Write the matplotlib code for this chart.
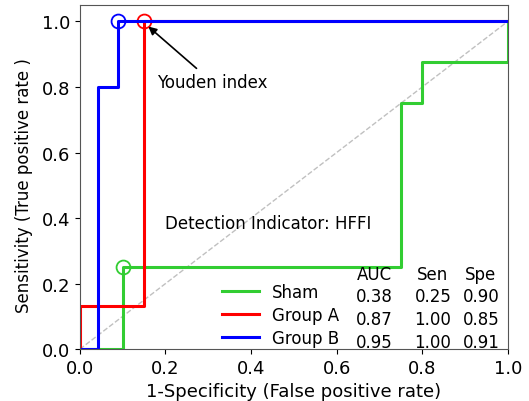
import matplotlib
matplotlib.use("Agg")
import matplotlib.pyplot as plt

# ROC step curves
sham_fpr = [0.0, 0.1, 0.1, 0.75, 0.75, 0.8, 0.8, 1.0, 1.0]
sham_tpr = [0.0, 0.0, 0.25, 0.25, 0.75, 0.75, 0.875, 0.875, 1.0]
a_fpr = [0.0, 0.0, 0.15, 0.15, 1.0]
a_tpr = [0.0, 0.133, 0.133, 1.0, 1.0]
b_fpr = [0.0, 0.042, 0.042, 0.09, 0.09, 1.0]
b_tpr = [0.0, 0.0, 0.8, 0.8, 1.0, 1.0]

groups = ["Sham", "Group A", "Group B"]
colors = ["limegreen", "red", "blue"]
youden = [(0.1, 0.25), (0.15, 1.0), (0.09, 1.0)]
auc = [0.38, 0.87, 0.95]
sen = [0.25, 1.00, 1.00]
spe = [0.90, 0.85, 0.91]

fig, ax = plt.subplots(figsize=(5.29, 4.02), dpi=100)
fig.subplots_adjust(left=0.151, right=0.960, top=0.985, bottom=0.129)

ax.plot([0, 1], [0, 1], ls="--", color="silver", lw=1)
curves = [(sham_fpr, sham_tpr), (a_fpr, a_tpr), (b_fpr, b_tpr)]
for (x, y), c, name, (px, py) in zip(curves, colors, groups, youden):
    ax.plot(x, y, color=c, lw=2.2, label=name)
    ax.plot(px, py, "o", mfc="none", mec=c, ms=10, mew=1.3)

ax.annotate("Youden index", xy=(0.155, 0.99), xytext=(0.18, 0.8),
            fontsize=12, arrowprops=dict(arrowstyle="-|>", color="black", lw=1.2))
ax.text(0.2, 0.385, "Detection Indicator: HFFI", fontsize=12, va="center")

ax.legend(loc="lower left", bbox_to_anchor=(0.297, -0.037), frameon=False,
          fontsize=12, handlelength=2.2, labelspacing=0.3)

# small stats table
cols_x = [0.689, 0.825, 0.937]
for cx, head in zip(cols_x, ["AUC", "Sen", "Spe"]):
    ax.text(cx, 0.228, head, fontsize=12, ha="center", va="center")
for i in range(3):
    yy = 0.163 - i * 0.07
    for cx, v in zip(cols_x, [auc[i], sen[i], spe[i]]):
        ax.text(cx, yy, f"{v:.2f}", fontsize=12, ha="center", va="center")

ax.set_xlim(0, 1)
ax.set_ylim(0, 1.05)
ax.set_xlabel("1-Specificity (False positive rate)", fontsize=13)
ax.set_ylabel("Sensitivity (True positive rate )", fontsize=12)
ax.yaxis.set_label_coords(-0.11, 0.477)
ax.tick_params(labelsize=13)
for s in ax.spines.values():
    s.set_color("#555555")

fig.savefig("out.png")
